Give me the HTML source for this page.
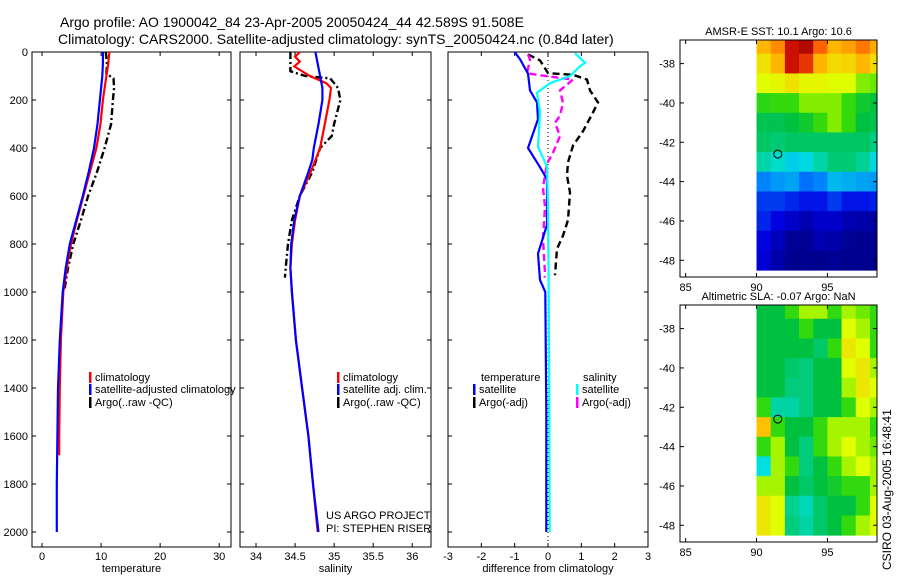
<!DOCTYPE html>
<html><head><meta charset="utf-8"><style>
body{margin:0;background:#fff;}
svg{display:block;font-family:"Liberation Sans",sans-serif;}
text{font-size:11px;fill:#000;}
</style></head><body>
<svg id="c" width="900" height="580" viewBox="0 0 900 580">
<text x="60" y="27" style="font-size:14px">Argo profile: AO 1900042_84 23-Apr-2005 20050424_44 42.589S 91.508E</text>
<text x="58" y="44" style="font-size:14px">Climatology: CARS2000. Satellite-adjusted climatology: synTS_20050424.nc (0.84d later)</text>
<text transform="translate(891,570) rotate(-90)" style="font-size:12px">CSIRO 03-Aug-2005 16:48:41</text>
</svg>
<script>
// ---- data ----
const depthT=[0,50,100,150,200,300,400,500,600,700,800,900,1000,1200,1400,1600,1680];
const tempClim=[11.4,11.2,10.9,10.6,10.3,9.9,9.2,8.1,7.0,5.9,4.9,4.2,3.6,3.2,3.0,2.9,2.9];
const depthTS=[0,50,100,150,200,300,400,500,600,700,800,900,1000,1200,1400,1600,1800,2000];
const tempSat=[10.3,10.3,10.2,10.0,9.8,9.4,8.8,7.9,6.9,5.8,4.7,4.0,3.5,3.0,2.7,2.6,2.5,2.5];
const depthTA=[0,50,90,110,150,200,300,400,500,600,700,800,900,990];
const tempArgo=[10.8,11.0,10.9,12.1,12.2,12.0,11.7,10.6,9.3,7.8,6.6,5.3,4.4,3.8];
const depthS=[0,20,40,60,100,130,150,200,300,400,500,600,700,800,900,1000,1200,1400,1600,1800,2000];
const salClim=[34.56,34.5,34.56,34.49,34.69,34.9,34.96,34.94,34.88,34.82,34.7,34.56,34.5,34.46,34.44,34.46,34.51,34.59,34.67,34.73,34.79];
const depthSS=[0,100,150,200,300,400,450,500,600,700,800,900,1000,1200,1400,1600,1800,2000];
const salSat=[34.76,34.82,34.85,34.85,34.8,34.74,34.72,34.67,34.56,34.49,34.45,34.44,34.46,34.51,34.59,34.67,34.73,34.8];
const depthSA=[0,50,80,100,110,150,200,300,350,400,500,600,700,800,900,940];
const salArgo=[34.44,34.44,34.44,34.63,34.95,35.05,35.08,35.0,34.97,34.82,34.72,34.56,34.46,34.41,34.38,34.37];
const depthDT=[0,30,90,160,210,280,400,480,530,720,840,950,1000,1500,2000];
const diffTSat=[-1.0,-0.84,-0.6,-0.54,-0.33,-0.3,-0.6,-0.24,-0.03,-0.03,-0.3,-0.24,-0.08,-0.05,-0.05];
const depthDTA=[10,35,88,95,115,160,210,260,330,390,460,515,585,700,765,820,930];
const diffTArgo=[-0.6,-0.24,0,0.75,1.17,1.26,1.5,1.32,1.05,0.75,0.6,0.57,0.66,0.6,0.45,0.27,0.21];
const depthDS=[5,45,60,100,130,170,250,395,478,645,1000,1500,2000];
const diffSSat=[0.81,1.11,0.96,0.66,0.06,-0.33,-0.24,-0.3,-0.03,0,0.02,0.04,0.05];
const depthDSA=[10,33,88,95,115,160,212,265,295,350,420,465,565,645,780,920,940];
const diffSArgo=[-0.6,-0.54,-0.63,-0.33,0.75,0.36,0.45,0.36,0.21,0.36,0.15,-0.03,-0.15,-0.09,-0.15,-0.09,-0.1];
const mapLats=[-37,-38,-39,-40,-41,-42,-43,-44,-45,-46,-47,-48];
const mapLons=[90,91,92,93,94,95,96,97,98];
const sst=[
[12.8,13.2,14.4,14.6,13.6,12.8,13,13.4,12.9],
[12.2,12.8,14.4,14,12.8,12.3,12.4,12.8,12.3],
[11.8,11.9,12.2,11.9,11.9,11.8,11.8,11.4,11.3],
[10.9,11,11,11.4,11.4,11.4,11,10.6,10.4],
[10.3,10.3,10.4,10.6,11,11.4,11,10.4,10.3],
[10.2,10.1,10.2,10.2,10.2,10.2,10.2,10.2,10],
[9.8,9.6,9.3,9.4,9.8,10.1,10.1,9.9,9.4],
[8.6,8.8,8.9,8.4,8.6,9.1,9,8.9,8.8],
[7.8,7.8,7.6,7.4,7.4,7.8,7.4,7.4,7.5],
[7.6,7.2,6.8,6.5,6.9,6.9,6.5,6.4,6.3],
[7.2,6.6,6.1,6.1,6.5,6.4,6.1,6,6],
[7,6.4,6,6,6,6.1,6,6,6]];
const sla=[
[0,0,0.05,0.1,0.1,0.05,0.1,0.08,0.05],
[0,0,0,0.05,0,0,0.12,0.1,0.05],
[0,0,0,0,-0.02,0.05,0.15,0.12,0.05],
[0,0,-0.02,-0.03,0,0,0.12,0.15,0.1],
[0,0,-0.03,-0.03,0,0,0.1,0.15,0.12],
[0.05,-0.05,-0.05,-0.03,0,0,0.05,0.12,0.1],
[0.2,0.05,0,0,0.05,0.1,0.1,0.1,0.05],
[0.05,0.1,0,-0.03,0.05,0.1,0.12,0.1,0.08],
[-0.08,0.1,0.05,-0.03,0,0.05,0.1,0.12,0.1],
[0.1,0.1,0,-0.02,0,0.02,0.05,0.05,0.1],
[0.15,0.12,-0.04,-0.06,-0.02,0,0,0.05,0.12],
[0.15,0.12,-0.03,-0.05,-0.02,0,0.05,0.1,0.12]];
const argoLon=91.5, argoLat=-42.6;

const svg=document.getElementById('c');
const NS='http://www.w3.org/2000/svg';
function mk(tag,attrs,parent){const e=document.createElementNS(NS,tag);for(const k in attrs)e.setAttribute(k,attrs[k]);(parent||svg).appendChild(e);return e;}

const yTop=52, yBot=547;
const yD=d=>yTop+d*0.24;

function panel(name,x0,x1,vmin,vmax,ticks,tickLbl,title,yLabels){
  const g=mk('g',{});
  
  
  const sx=v=>x0+(v-vmin)/(vmax-vmin)*(x1-x0);
  ticks.forEach((t,i)=>{
    const x=sx(t);
    mk('line',{x1:x,y1:yTop,x2:x,y2:yTop+4,stroke:'#000'},g);
    mk('line',{x1:x,y1:yBot,x2:x,y2:yBot-4,stroke:'#000'},g);
    const tx=mk('text',{x:x,y:yBot+13,'text-anchor':'middle'},g);tx.textContent=tickLbl[i];
    
    
  });
  for(let d=0;d<=2000;d+=200){
    const y=yD(d);
    mk('line',{x1:x0,y1:y,x2:x0+4,y2:y,stroke:'#000'},g);
    mk('line',{x1:x1,y1:y,x2:x1-4,y2:y,stroke:'#000'},g);
    if(yLabels){const t=mk('text',{x:x0-4,y:y+4,'text-anchor':'end'},g);t.textContent=d;
      
      }
  }
  mk('rect',{x:x0,y:yTop,width:x1-x0,height:yBot-yTop,fill:'none',stroke:'#000'},g);
  const tt=mk('text',{x:(x0+x1)/2,y:572,'text-anchor':'middle','font-size':'11'},g);tt.textContent=title;
  
  
  return {g,sx};
}
function series(p,depths,vals,color,dash,name,w){
  const pts=depths.map((d,i)=>p.sx(vals[i]).toFixed(1)+','+yD(d).toFixed(1)).join(' ');
  const l=mk('polyline',{points:pts,fill:'none',stroke:color,'stroke-width':w||2.2,'stroke-dasharray':dash||'none'},p.g);
  
  
}
function legend(p,x,y,color,label,name){
  if(color){mk('rect',{x:x,y:y-9,width:2.5,height:11,fill:color},p.g);}
  const t=mk('text',{x:x+6,y:y},p.g);t.textContent=label;
  
  
}

const p1=panel('temperature-panel',32,231,-1.7,32,[0,10,20,30],['0','10','20','30'],'temperature',true);
series(p1,depthTA,tempArgo,'#000','7,3,2,3','argo-temp-line',2.4);
series(p1,depthT,tempClim,'#ff0000','','clim-temp-line');
series(p1,depthTS,tempSat,'#0000ff','','sat-temp-line');
legend(p1,89,381,'#ff0000','climatology','legend-climatology');
legend(p1,89,393,'#0000ff','satellite-adjusted climatology','legend-satellite');
legend(p1,89,406,'#000','Argo(..raw -QC)','legend-argo');

const p2=panel('salinity-panel',240,431,33.795,36.24,[34,34.5,35,35.5,36],['34','34.5','35','35.5','36'],'salinity',false);
series(p2,depthSA,salArgo,'#000','7,3,2,3','argo-sal-line',2.4);
series(p2,depthS,salClim,'#ff0000','','clim-sal-line');
series(p2,depthSS,salSat,'#0000ff','','sat-sal-line');
legend(p2,337,381,'#ff0000','climatology','legend-climatology');
legend(p2,337,393,'#0000ff','satellite adj. clim.','legend-satellite');
legend(p2,337,406,'#000','Argo(..raw -QC)','legend-argo');
const u1=mk('text',{x:326,y:519},p2.g);u1.textContent='US ARGO PROJECT';


const u2=mk('text',{x:326,y:532},p2.g);u2.textContent='PI: STEPHEN RISER';



const p3=panel('difference-panel',448,648,-3,3,[-3,-2,-1,0,1,2,3],['-3','-2','-1','0','1','2','3'],'difference from climatology',false);
mk('line',{x1:p3.sx(0),y1:yTop,x2:p3.sx(0),y2:yBot,stroke:'#000','stroke-dasharray':'1,3'},p3.g);
series(p3,depthDTA,diffTArgo,'#000','7,4','argo-temp-diff-line',2.4);
series(p3,depthDSA,diffSArgo,'#ff00ff','7,4','argo-sal-diff-line',2.4);
series(p3,depthDT,diffTSat,'#0000ff','','sat-temp-diff-line');
series(p3,depthDS,diffSSat,'#00ffff','','sat-sal-diff-line');
legend(p3,475,381,null,'temperature','legend-temperature-header');
legend(p3,473,393,'#0000ff','satellite','legend-temp-satellite');
legend(p3,473,406,'#000','Argo(-adj)','legend-temp-argo');
legend(p3,577,381,null,'salinity','legend-salinity-header');
legend(p3,576,393,'#00ffff','satellite','legend-sal-satellite');
legend(p3,576,406,'#ff00ff','Argo(-adj)','legend-sal-argo');

const cmapStops=[[0,[0,0,128]],[0.15,[0,0,224]],[0.3,[0,128,255]],[0.4,[0,224,224]],[0.5,[0,192,64]],[0.58,[64,224,0]],[0.65,[224,255,0]],[0.75,[255,192,0]],[0.85,[255,96,0]],[0.93,[208,16,0]],[1,[128,0,0]]];
function cmap(t){t=Math.max(0,Math.min(1,t));
  for(let i=1;i<cmapStops.length;i++){const [b,cb]=cmapStops[i];if(t<=b){const [a,ca]=cmapStops[i-1];const f=(t-a)/(b-a);
    return 'rgb('+ca.map((v,k)=>Math.round(v+(cb[k]-v)*f)).join(',')+')';}}
  return 'rgb(128,0,0)';}

function map(name,y0,y1,grid,vmin,vmax,title){
  const x0=680,x1=877,lonMin=84.6,lonMax=98.5,latTop=-36.8,latBot=-48.85;
  const g=mk('g',{});
  
  
  const sx=l=>x0+(l-lonMin)/(lonMax-lonMin)*(x1-x0);
  const sy=l=>y0+(latTop-l)/(latTop-latBot)*(y1-y0);
  mapLats.forEach((lat,r)=>{
    mapLons.forEach((lon,c)=>{
      const a=sx(lon), b=sx(Math.min(lon+1,lonMax));
      const t=Math.min(lat+0.5,latTop), bt=Math.max(lat-0.5,latBot);
      const cell=mk('rect',{x:a,y:sy(t),width:b-a+0.5,height:sy(bt)-sy(t)+0.5,fill:cmap((grid[r][c]-vmin)/(vmax-vmin))},g);
      
      
    });
  });
  mk('circle',{cx:sx(argoLon),cy:sy(argoLat),r:4,fill:'none',stroke:'#000'},g);
  [85,90,95].forEach(l=>{const x=sx(l);
    mk('line',{x1:x,y1:y0,x2:x,y2:y0+4,stroke:'#000'},g);
    mk('line',{x1:x,y1:y1,x2:x,y2:y1-4,stroke:'#000'},g);
    const t=mk('text',{x:x,y:y1+14,'text-anchor':'middle'},g);t.textContent=l;
    
    });
  [-38,-40,-42,-44,-46,-48].forEach(l=>{const y=sy(l);
    mk('line',{x1:x0,y1:y,x2:x0+4,y2:y,stroke:'#000'},g);
    mk('line',{x1:x1,y1:y,x2:x1-4,y2:y,stroke:'#000'},g);
    const t=mk('text',{x:x0-5,y:y+4,'text-anchor':'end'},g);t.textContent=l;
    
    });
  mk('rect',{x:x0,y:y0,width:x1-x0,height:y1-y0,fill:'none',stroke:'#000'},g);
  const tt=mk('text',{x:(x0+x1)/2,y:y0-5,'text-anchor':'middle','font-size':'10.5'},g);tt.textContent=title;
  
  
}
map('sst-map',40,277,sst,5.8,15,'AMSR-E SST: 10.1 Argo: 10.6');
map('sla-map',305,542,sla,-0.4,0.4,'Altimetric SLA: -0.07 Argo: NaN');
</script>
</body></html>
